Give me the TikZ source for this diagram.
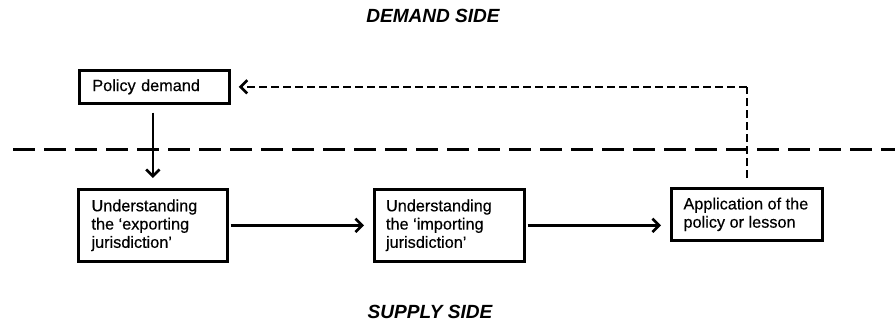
\documentclass[tikz,border=0pt]{standalone}
\usepackage{fontspec}
\setmainfont{Liberation Sans}
\newfontfamily\boxfont{Liberation Sans}[FakeBold=0.4]
\usetikzlibrary{arrows.meta}
\tikzset{
  box/.style={draw, line width=2pt, rectangle, align=left, inner xsep=0pt, inner ysep=0pt,
    font=\boxfont\fontsize{12.2pt}{13.7pt}\selectfont, anchor=north west},
  tip/.style={-{Straight Barb[length=5pt,width=10pt,line width=2pt]}},
  arr/.style={line width=2pt, tip},
  sidelabel/.style={font=\fontsize{14.3pt}{16pt}\selectfont\bfseries\itshape},
  divider/.style={line width=2.4pt, dash pattern=on 16.5pt off 6.75pt},
  feedback/.style={line width=2pt, dash pattern=on 6pt off 3pt}
}
\begin{document}
\begin{tikzpicture}[x=0.75pt,y=-0.75pt]
\useasboundingbox (0,0) rectangle (895,325);
\node[box, minimum width=150*0.75pt, minimum height=33*0.75pt, text width=140*0.75pt] (pd) at (78,69) {\hspace*{6pt}Policy demand};
\node[box, minimum width=149*0.75pt, minimum height=72*0.75pt] (ex) at (77,188)
  {\hspace*{8pt}\parbox{100pt}{Understanding\\the ‘exporting\\jurisdiction’}};
\node[box, minimum width=150*0.75pt, minimum height=72*0.75pt] (im) at (373,188)
  {\hspace*{7pt}\parbox{102pt}{Understanding\\the ‘importing\\jurisdiction’}};
\node[box, minimum width=151*0.75pt, minimum height=52*0.75pt] (ap) at (670,187)
  {\hspace*{8pt}\parbox{103pt}{Application of the\\policy or lesson}};
\node[sidelabel] (dem) at (433,16) {DEMAND SIDE};
\node[sidelabel] (sup) at (430,312) {SUPPLY SIDE};
\coordinate (dl) at (13,149.5);
\coordinate (dr) at (895,149.5);
\draw[divider] (dl) -- (dr);
\draw[arr, shorten <=8*0.75pt, shorten >=10*0.75pt] (ex.north |- pd.south) -- (ex.north);
\draw[arr, shorten <=1.5pt, shorten >=9*0.75pt] (ex.east) -- (im.west);
\draw[arr, shorten <=1.5pt, shorten >=9*0.75pt] (im.east) -- (im.east -| ap.west);
\draw[feedback, shorten <=9*0.75pt] (ap.north) -- (ap.north |- pd.east);
\draw[feedback, tip, shorten >=8*0.75pt] (ap.north |- pd.east) -- (pd.east);
\end{tikzpicture}
\end{document}
